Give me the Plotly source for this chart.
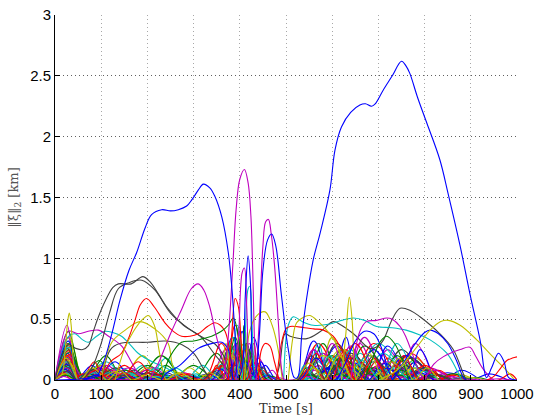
import plotly.graph_objects as go

# MATLAB default colour order
COLORS = ['rgb(0,0,255)', 'rgb(0,128,0)', 'rgb(255,0,0)', 'rgb(0,191,191)',
          'rgb(191,0,191)', 'rgb(191,191,0)', 'rgb(64,64,64)']

x_ticks = [0, 100, 200, 300, 400, 500, 600, 700, 800, 900, 1000]
y_ticks = [0, 0.5, 1, 1.5, 2, 2.5, 3]

# ---- prominent curves: (time [s], ||xi||_2 [km]) knots ----
blue_main = [(0, 0), (60, 0.01), (90, 0.03), (100, 0.1), (110, 0.2), (123, 0.38), (141, 0.66),
             (160, 0.9), (177, 1.05), (195, 1.25), (209, 1.36), (231, 1.40), (250, 1.39),
             (267, 1.40), (285, 1.43), (296, 1.48), (310, 1.56), (321, 1.61), (335, 1.58),
             (346, 1.51), (361, 1.34), (375, 1.05), (383, 0.75), (390, 0.35), (396, 0.02),
             (405, 0.1), (412, 0.7), (418, 1.02), (423, 0.8), (428, 0.1), (433, 0.02),
             (442, 0.35), (450, 0.9), (460, 1.15), (469, 1.2), (478, 1.1), (490, 0.7),
             (505, 0.25), (518, 0.02), (525, 0.02), (534, 0.36), (545, 0.68), (559, 0.99),
             (574, 1.21), (595, 1.56), (606, 1.89), (620, 2.08), (640, 2.2), (660, 2.26),
             (672, 2.27), (685, 2.25), (693, 2.27), (710, 2.38), (730, 2.5), (750, 2.62),
             (760, 2.58), (768, 2.52), (785, 2.32), (805, 2.11), (833, 1.81), (851, 1.53),
             (877, 1.10), (898, 0.71), (920, 0.33), (934, 0.02), (945, 0.1), (960, 0.22),
             (972, 0.15), (982, 0.02), (1000, 0.0)]
magenta_tall = [(365, 0), (375, 0.35), (385, 0.95), (392, 1.4), (400, 1.65), (410, 1.73),
                (418, 1.62), (424, 1.35), (428, 0.9), (432, 0.3), (436, 0)]
magenta_second = [(435, 0), (443, 0.55), (450, 1.1), (456, 1.3), (462, 1.32), (468, 1.2),
                  (475, 0.95), (483, 0.5), (490, 0.1), (495, 0)]
magenta_spike = [(392, 0), (398, 0.4), (405, 0.88), (410, 0.92), (415, 0.6), (420, 0.1), (425, 0)]
magenta_arch = [(205, 0), (215, 0.08), (224, 0.14), (250, 0.38), (274, 0.58), (295, 0.75),
                (310, 0.79), (322, 0.74), (335, 0.6), (348, 0.38), (361, 0.19), (372, 0.05), (380, 0)]
gray_a = [(0, 0), (15, 0.2), (30, 0.29), (45, 0.26), (60, 0.25), (72, 0.28), (83, 0.4),
          (94, 0.52), (110, 0.66), (125, 0.76), (137, 0.79), (165, 0.79), (190, 0.85), (205, 0.81),
          (225, 0.7), (242, 0.6), (278, 0.45), (314, 0.36), (350, 0.19), (370, 0.1), (390, 0.02)]
gray_b = [(60, 0), (80, 0.1), (100, 0.3), (118, 0.55), (137, 0.75), (160, 0.8), (188, 0.82),
          (216, 0.74), (250, 0.55), (290, 0.42), (320, 0.35), (345, 0.3), (365, 0.2), (380, 0.05), (390, 0)]
red_a = [(100, 0), (120, 0.15), (144, 0.22), (160, 0.35), (173, 0.49), (185, 0.62), (198, 0.67),
         (215, 0.6), (238, 0.47), (256, 0.4), (274, 0.36), (292, 0.36), (310, 0.38), (330, 0.44),
         (346, 0.47), (358, 0.45), (368, 0.4), (378, 0.25), (385, 0.05), (390, 0)]
red_spike = [(375, 0), (383, 0.4), (390, 0.67), (397, 0.6), (403, 0.3), (410, 0)]
yellow_a = [(130, 0), (150, 0.25), (170, 0.4), (190, 0.5), (202, 0.53), (215, 0.45), (225, 0.25), (235, 0.05), (240, 0)]
yellow_b = [(100, 0), (123, 0.31), (152, 0.41), (184, 0.48), (216, 0.42), (245, 0.3), (253, 0.14), (265, 0)]
yellow_c = [(410, 0), (422, 0.41), (437, 0.53), (455, 0.56), (470, 0.45), (483, 0.25), (492, 0)]
yellow_spike0 = [(0, 0), (15, 0.05), (22, 0.25), (28, 0.5), (31, 0.55), (35, 0.45), (40, 0.15), (48, 0)]
yellow_spike1 = [(620, 0), (630, 0.4), (637, 0.68), (643, 0.5), (648, 0.1), (652, 0)]
yellow_late = [(700, 0), (740, 0.08), (783, 0.27), (812, 0.41), (835, 0.48), (851, 0.49),
               (877, 0.45), (913, 0.33), (948, 0.19), (977, 0.08), (995, 0)]
yellow_mid = [(505, 0.0), (515, 0.35), (523, 0.47), (540, 0.52), (552, 0.53), (570, 0.48),
              (588, 0.41), (605, 0.32), (620, 0.2), (635, 0.05), (645, 0)]
gray_late = [(478, 0), (487, 0.14), (498, 0.38), (509, 0.36), (545, 0.34), (575, 0.4), (602, 0.48),
             (620, 0.45), (646, 0.38), (682, 0.26), (700, 0.28), (711, 0.33), (730, 0.5),
             (747, 0.59), (770, 0.57), (790, 0.52), (833, 0.38), (862, 0.25), (884, 0.05), (890, 0)]
gray_flat = [(100, 0.0), (120, 0.25), (140, 0.3), (200, 0.31), (240, 0.32), (275, 0.29),
             (300, 0.22), (320, 0.1), (335, 0)]
cyan_late = [(495, 0.0), (505, 0.45), (516, 0.52), (535, 0.48), (559, 0.45), (595, 0.46),
             (620, 0.49), (646, 0.51), (670, 0.49), (696, 0.44), (730, 0.43), (760, 0.41),
             (790, 0.37), (812, 0.33), (848, 0.22), (870, 0.08), (880, 0)]
cyan_early = [(0, 0), (15, 0.25), (30, 0.36), (43, 0.38), (60, 0.33), (72, 0.31), (90, 0.36),
              (108, 0.40), (125, 0.39), (144, 0.36), (165, 0.28), (180, 0.22), (200, 0.17),
              (216, 0.14), (240, 0.1), (260, 0.05), (280, 0)]
cyan_spike = [(405, 0), (412, 0.4), (418, 0.75), (422, 0.77), (426, 0.5), (431, 0)]
magenta_early = [(0, 0), (10, 0.2), (29, 0.4), (50, 0.38), (72, 0.40), (94, 0.41), (116, 0.36),
                 (144, 0.28), (165, 0.15), (180, 0.05), (190, 0)]
magenta_h = [(640, 0.0), (660, 0.4), (674, 0.48), (696, 0.49), (718, 0.51), (730, 0.5),
             (747, 0.44), (760, 0.35), (775, 0.2), (790, 0.05), (800, 0)]
magenta_i = [(800, 0.0), (820, 0.13), (840, 0.19), (877, 0.25), (898, 0.27), (910, 0.2),
             (925, 0.1), (940, 0.03), (950, 0)]
green_d = [(230, 0.0), (250, 0.2), (274, 0.31), (300, 0.32), (320, 0.34), (339, 0.36),
           (360, 0.4), (375, 0.45), (386, 0.51), (395, 0.4), (405, 0.15), (412, 0)]
green_m = [(670, 0), (690, 0.2), (705, 0.32), (718, 0.36), (735, 0.3), (750, 0.18), (765, 0)]
blue_f = [(230, 0), (240, 0.05), (270, 0.12), (310, 0.26), (340, 0.3), (361, 0.31), (375, 0.25), (385, 0)]
blue_k = [(730, 0), (754, 0.14), (780, 0.3), (800, 0.39), (812, 0.41), (830, 0.38), (850, 0.3),
          (869, 0.16), (884, 0.02), (890, 0)]
blue_l = [(610, 0), (630, 0.15), (650, 0.32), (670, 0.4), (690, 0.38), (705, 0.28), (720, 0.1), (730, 0)]
red_g = [(480, 0), (490, 0.3), (500, 0.42), (509, 0.44), (540, 0.43), (560, 0.42), (581, 0.41),
         (602, 0.36), (620, 0.25), (640, 0.05), (650, 0)]
red_q = [(440, 0), (447, 0.25), (455, 0.3), (465, 0.28), (475, 0.15), (485, 0)]
red_j = [(935, 0), (950, 0.03), (965, 0.1), (978, 0.16), (990, 0.18), (1000, 0.19)]

# ---- the dense mass of small arches: [start, peak time, end, peak height] ----
small_arches = [
    [[0, 28, 55, 0.22], [60, 95, 130, 0.1], [340, 385, 410, 0.35], [430, 455, 480, 0.12], [560, 610, 660, 0.28], [800, 850, 900, 0.06]],
    [[0, 30, 60, 0.25], [62, 95, 135, 0.16], [250, 300, 345, 0.12], [350, 395, 430, 0.3], [560, 600, 640, 0.2], [690, 730, 770, 0.15]],
    [[0, 27, 52, 0.3], [60, 100, 135, 0.1], [150, 200, 240, 0.08], [360, 390, 420, 0.45], [540, 580, 620, 0.22], [640, 690, 740, 0.3]],
    [[0, 32, 65, 0.2], [90, 140, 200, 0.1], [200, 240, 280, 0.18], [380, 400, 425, 0.25], [560, 590, 620, 0.15], [630, 660, 700, 0.22]],
    [[0, 26, 50, 0.45], [70, 110, 150, 0.06], [330, 370, 400, 0.25], [540, 570, 600, 0.12], [620, 660, 700, 0.3], [720, 760, 800, 0.2]],
    [[0, 30, 58, 0.35], [60, 90, 120, 0.08], [260, 290, 330, 0.1], [370, 410, 440, 0.3], [550, 600, 650, 0.1], [740, 780, 820, 0.18]],
    [[0, 29, 56, 0.18], [120, 170, 210, 0.05], [340, 380, 410, 0.28], [530, 570, 610, 0.18], [700, 740, 780, 0.12]],
    [[0, 25, 48, 0.15], [50, 80, 110, 0.12], [380, 405, 430, 0.4], [520, 550, 580, 0.18], [600, 630, 660, 0.35], [840, 880, 920, 0.08]],
    [[0, 33, 62, 0.14], [70, 110, 150, 0.2], [150, 200, 250, 0.12], [300, 350, 390, 0.22], [580, 620, 670, 0.25], [750, 800, 850, 0.08]],
    [[0, 29, 55, 0.12], [80, 120, 160, 0.08], [320, 360, 395, 0.3], [400, 420, 440, 0.2], [580, 640, 700, 0.18], [720, 770, 820, 0.22]],
    [[0, 28, 54, 0.32], [60, 100, 140, 0.06], [280, 320, 350, 0.12], [355, 385, 415, 0.35], [620, 680, 740, 0.2], [760, 800, 840, 0.1]],
    [[0, 31, 60, 0.1], [100, 140, 180, 0.08], [390, 420, 445, 0.3], [450, 470, 490, 0.08], [600, 640, 680, 0.28], [680, 720, 760, 0.25]],
    [[0, 27, 50, 0.28], [140, 190, 230, 0.2], [330, 360, 390, 0.15], [560, 600, 640, 0.35], [640, 680, 720, 0.2]],
    [[0, 30, 60, 0.08], [62, 90, 120, 0.05], [360, 400, 430, 0.18], [540, 590, 640, 0.1], [700, 750, 800, 0.25]],
    [[0, 29, 58, 0.19], [90, 130, 170, 0.15], [400, 430, 460, 0.35], [540, 560, 580, 0.25], [620, 660, 700, 0.15], [900, 940, 980, 0.05]],
    [[0, 31, 62, 0.23], [64, 100, 140, 0.12], [180, 230, 280, 0.2], [340, 370, 400, 0.18], [600, 650, 700, 0.12], [760, 790, 820, 0.1]],
    [[0, 26, 52, 0.17], [110, 150, 190, 0.12], [380, 410, 440, 0.25], [560, 610, 660, 0.2], [690, 720, 750, 0.18]],
    [[0, 33, 64, 0.15], [150, 190, 230, 0.12], [370, 395, 420, 0.45], [520, 560, 600, 0.1], [640, 700, 760, 0.3]],
    [[0, 28, 55, 0.35], [80, 130, 180, 0.05], [350, 375, 400, 0.2], [580, 620, 660, 0.2], [760, 810, 860, 0.1]],
    [[0, 30, 58, 0.13], [200, 250, 300, 0.08], [400, 425, 450, 0.22], [600, 640, 680, 0.15], [780, 820, 860, 0.05]],
    [[0, 27, 52, 0.26], [60, 100, 140, 0.08], [370, 395, 420, 0.25], [560, 600, 640, 0.12], [640, 690, 740, 0.15]],
    [[0, 32, 63, 0.11], [100, 150, 200, 0.06], [330, 360, 390, 0.12], [520, 560, 600, 0.32], [680, 720, 760, 0.28]],
    [[0, 29, 56, 0.4], [58, 90, 130, 0.1], [390, 410, 430, 0.45], [540, 580, 620, 0.3], [700, 740, 780, 0.2]],
    [[0, 30, 59, 0.21], [160, 200, 240, 0.06], [350, 380, 410, 0.22], [600, 630, 660, 0.25], [740, 780, 820, 0.15], [960, 985, 1000, 0.05]],
    [[0, 26, 50, 0.09], [60, 110, 160, 0.15], [390, 420, 450, 0.2], [540, 600, 660, 0.08], [660, 710, 760, 0.22]],
    [[0, 31, 61, 0.2], [160, 210, 260, 0.1], [380, 400, 420, 0.4], [620, 670, 720, 0.35], [800, 840, 880, 0.05]],
    [[0, 28, 54, 0.16], [60, 100, 140, 0.12], [340, 380, 420, 0.2], [560, 620, 680, 0.25]],
    [[0, 30, 60, 0.12], [200, 240, 280, 0.06], [390, 415, 440, 0.3], [520, 550, 580, 0.05], [620, 650, 680, 0.2]],
    [[0, 27, 53, 0.07], [130, 180, 230, 0.06], [360, 390, 415, 0.25], [640, 690, 740, 0.25], [740, 780, 820, 0.15]],
    [[0, 32, 64, 0.06], [100, 150, 200, 0.08], [400, 420, 440, 0.25], [560, 620, 680, 0.18], [720, 760, 800, 0.2]],
    [[0, 29, 57, 0.24], [60, 85, 110, 0.15], [330, 350, 370, 0.12], [520, 570, 620, 0.3], [660, 700, 740, 0.12]],
    [[0, 30, 58, 0.27], [120, 160, 200, 0.06], [360, 380, 400, 0.3], [580, 610, 640, 0.2], [700, 740, 780, 0.3]],
    [[0, 27, 52, 0.14], [70, 110, 150, 0.1], [410, 440, 470, 0.18], [540, 580, 620, 0.22], [740, 780, 820, 0.3]],
    [[0, 33, 66, 0.08], [160, 200, 240, 0.1], [380, 400, 420, 0.35], [520, 600, 680, 0.06], [680, 720, 760, 0.1]],
    [[0, 28, 56, 0.05], [80, 120, 160, 0.06], [350, 390, 430, 0.12], [580, 640, 700, 0.22], [760, 800, 840, 0.1]],
    [[0, 29, 58, 0.32], [180, 230, 280, 0.05], [380, 410, 440, 0.15], [580, 600, 620, 0.15], [700, 760, 820, 0.2]],
    [[0, 30, 60, 0.3], [100, 140, 180, 0.04], [360, 390, 420, 0.35], [620, 670, 720, 0.28]],
    [[0, 28, 55, 0.06], [60, 100, 140, 0.05], [340, 370, 400, 0.18], [600, 650, 700, 0.3], [800, 830, 860, 0.08]],
    [[0, 31, 62, 0.05], [180, 220, 260, 0.1], [400, 430, 460, 0.12], [540, 570, 600, 0.3], [740, 770, 800, 0.15]],
    [[0, 29, 57, 0.07], [110, 160, 210, 0.1], [360, 400, 440, 0.15], [520, 560, 600, 0.25], [660, 720, 780, 0.15]],
    [[0, 27, 52, 0.2], [80, 130, 180, 0.05], [350, 370, 390, 0.3], [600, 660, 720, 0.12], [830, 870, 910, 0.05]],
    [[0, 32, 64, 0.15], [130, 170, 210, 0.08], [400, 425, 450, 0.12], [560, 610, 660, 0.3], [720, 770, 820, 0.18]],
    [[0, 30, 60, 0.04], [62, 120, 180, 0.04], [420, 445, 470, 0.15], [560, 590, 620, 0.1], [760, 790, 820, 0.25]],
    [[0, 29, 58, 0.1], [200, 240, 280, 0.12], [380, 405, 430, 0.2], [640, 690, 740, 0.1], [820, 860, 900, 0.05]],
    [[0, 31, 60, 0.08], [140, 180, 220, 0.15], [410, 430, 450, 0.3], [620, 660, 700, 0.15], [760, 800, 840, 0.12]],
    [[0, 28, 56, 0.11], [220, 260, 300, 0.1], [340, 370, 400, 0.1], [600, 640, 680, 0.25], [720, 760, 800, 0.05]],
    [[0, 30, 60, 0.17], [62, 110, 160, 0.12], [370, 390, 410, 0.3], [560, 600, 640, 0.3], [780, 820, 860, 0.08]],
    [[0, 26, 52, 0.05], [100, 150, 200, 0.06], [360, 390, 420, 0.25], [520, 580, 640, 0.2], [700, 730, 760, 0.15]],
    [[0, 31, 62, 0.1], [90, 130, 170, 0.1], [380, 400, 420, 0.2], [600, 620, 640, 0.18], [680, 730, 780, 0.08]],
]

# ---- the near-floor layer of very low arches ----
tiny_arches = [
    [[0, 20, 45, 0.12], [50, 75, 100, 0.05], [120, 150, 180, 0.04], [200, 230, 260, 0.05], [290, 320, 350, 0.04], [360, 380, 400, 0.1], [420, 440, 460, 0.08], [520, 545, 570, 0.1], [580, 610, 640, 0.12], [650, 680, 710, 0.1], [720, 750, 780, 0.08], [790, 820, 850, 0.05], [880, 910, 940, 0.02]],
    [[0, 25, 50, 0.1], [55, 80, 105, 0.07], [110, 140, 170, 0.05], [180, 210, 240, 0.04], [250, 280, 310, 0.06], [330, 350, 370, 0.08], [380, 400, 420, 0.12], [430, 450, 470, 0.06], [530, 560, 590, 0.08], [600, 630, 660, 0.1], [670, 700, 730, 0.12], [740, 770, 800, 0.06], [820, 850, 880, 0.03]],
    [[0, 22, 44, 0.09], [50, 70, 90, 0.06], [100, 125, 150, 0.05], [160, 190, 220, 0.03], [230, 260, 290, 0.04], [300, 330, 360, 0.05], [370, 390, 410, 0.15], [410, 430, 450, 0.1], [520, 540, 560, 0.06], [560, 590, 620, 0.09], [620, 650, 680, 0.14], [690, 720, 750, 0.1], [760, 790, 820, 0.08]],
    [[0, 18, 40, 0.08], [45, 65, 85, 0.04], [90, 115, 140, 0.06], [150, 175, 200, 0.05], [210, 240, 270, 0.03], [280, 305, 330, 0.05], [340, 365, 390, 0.1], [400, 415, 430, 0.14], [440, 460, 480, 0.05], [540, 570, 600, 0.15], [610, 640, 670, 0.08], [680, 710, 740, 0.09], [750, 780, 810, 0.1], [850, 880, 910, 0.02]],
    [[0, 24, 48, 0.07], [52, 78, 104, 0.08], [110, 135, 160, 0.03], [170, 200, 230, 0.06], [240, 270, 300, 0.03], [310, 340, 370, 0.06], [375, 395, 415, 0.18], [420, 440, 460, 0.12], [520, 550, 580, 0.05], [590, 620, 650, 0.16], [660, 690, 720, 0.08], [730, 760, 790, 0.12], [800, 830, 860, 0.04]],
    [[0, 16, 36, 0.06], [40, 60, 80, 0.05], [85, 110, 135, 0.04], [140, 165, 190, 0.07], [200, 225, 250, 0.04], [260, 290, 320, 0.05], [330, 360, 390, 0.12], [395, 410, 425, 0.1], [430, 450, 470, 0.08], [525, 555, 585, 0.12], [595, 625, 655, 0.06], [665, 695, 725, 0.15], [735, 765, 795, 0.05], [830, 860, 890, 0.04]],
    [[0, 21, 42, 0.05], [48, 72, 96, 0.04], [100, 130, 160, 0.07], [165, 195, 225, 0.04], [235, 265, 295, 0.05], [300, 325, 350, 0.04], [360, 385, 410, 0.2], [415, 435, 455, 0.1], [530, 560, 590, 0.1], [600, 635, 670, 0.12], [680, 705, 730, 0.06], [740, 775, 810, 0.1], [870, 900, 930, 0.02]],
    [[0, 23, 46, 0.04], [50, 75, 100, 0.03], [105, 130, 155, 0.03], [160, 185, 210, 0.03], [215, 245, 275, 0.02], [285, 315, 345, 0.03], [350, 370, 390, 0.06], [395, 420, 445, 0.06], [450, 470, 490, 0.03], [520, 550, 580, 0.04], [585, 615, 645, 0.05], [650, 680, 710, 0.05], [715, 745, 775, 0.04], [780, 810, 840, 0.03], [850, 880, 910, 0.015]],
    [[0, 19, 38, 0.03], [42, 66, 90, 0.02], [95, 120, 145, 0.02], [150, 180, 210, 0.02], [220, 250, 280, 0.015], [290, 320, 350, 0.02], [355, 375, 395, 0.04], [400, 425, 450, 0.04], [455, 480, 505, 0.02], [515, 545, 575, 0.03], [580, 610, 640, 0.03], [645, 675, 705, 0.04], [710, 740, 770, 0.03], [775, 805, 835, 0.02], [840, 880, 920, 0.01], [930, 960, 990, 0.01]],
    [[0, 26, 52, 0.13], [60, 90, 120, 0.04], [130, 160, 190, 0.03], [200, 230, 260, 0.02], [270, 300, 330, 0.03], [340, 360, 380, 0.09], [385, 410, 435, 0.16], [440, 460, 480, 0.04], [530, 565, 600, 0.18], [605, 640, 675, 0.1], [680, 715, 750, 0.14], [760, 790, 820, 0.06]],
    [[0, 24, 50, 0.15], [55, 85, 115, 0.06], [125, 155, 185, 0.06], [190, 220, 250, 0.03], [260, 295, 330, 0.04], [335, 360, 385, 0.13], [390, 405, 420, 0.2], [425, 445, 465, 0.09], [520, 540, 560, 0.12], [565, 595, 625, 0.2], [630, 665, 700, 0.16], [705, 735, 765, 0.1], [770, 800, 830, 0.07]],
    [[0, 22, 46, 0.17], [50, 80, 110, 0.09], [115, 145, 175, 0.04], [185, 215, 245, 0.05], [255, 285, 315, 0.02], [320, 345, 370, 0.07], [375, 400, 425, 0.22], [430, 450, 470, 0.1], [525, 555, 585, 0.2], [590, 620, 650, 0.18], [655, 690, 725, 0.2], [730, 760, 790, 0.15], [795, 825, 855, 0.04]],
    [[0, 27, 54, 0.2], [58, 88, 118, 0.08], [125, 150, 175, 0.06], [180, 210, 240, 0.07], [250, 280, 310, 0.05], [325, 350, 375, 0.1], [380, 395, 410, 0.25], [415, 435, 455, 0.15], [535, 565, 595, 0.22], [600, 625, 650, 0.24], [660, 690, 720, 0.18], [725, 755, 785, 0.2], [790, 815, 840, 0.06]],
    [[0, 25, 50, 0.18], [55, 82, 110, 0.1], [115, 140, 165, 0.08], [170, 200, 230, 0.04], [240, 270, 300, 0.06], [310, 335, 360, 0.06], [365, 385, 405, 0.18], [410, 430, 450, 0.2], [520, 550, 580, 0.14], [585, 615, 645, 0.2], [650, 680, 710, 0.22], [715, 745, 775, 0.18], [780, 805, 830, 0.1]],
]

B, G, R, C, M, Y, K = COLORS
big_curves = [
    (gray_flat, K), (cyan_early, C), (magenta_early, M), (yellow_b, Y), (gray_b, K),
    (gray_a, K), (red_a, R), (yellow_a, Y), (green_d, G), (blue_f, B), (magenta_arch, M),
    (red_spike, R), (yellow_spike0, Y), (cyan_spike, C), (yellow_c, Y), (red_q, R),
    (gray_late, K), (cyan_late, C), (red_g, R), (yellow_mid, Y), (yellow_spike1, Y),
    (blue_l, B), (green_m, G), (magenta_h, M), (blue_k, B), (yellow_late, Y),
    (magenta_i, M), (red_j, R), (magenta_spike, M), (magenta_tall, M),
    (magenta_second, M), (blue_main, B),
]

fig = go.Figure()


def add_line(pts, color):
    fig.add_trace(go.Scatter(
        x=[p[0] for p in pts], y=[p[1] for p in pts], mode='lines',
        line=dict(color=color, width=1.1, shape='spline', smoothing=1.0),
        hoverinfo='skip', showlegend=False))


def arches_to_points(arches):
    pts = []
    for t0, tp, t1, h in arches:
        if not pts or t0 > pts[-1][0]:
            pts.append((t0, 0.0))
        pts.append((tp, h))
        pts.append((t1, 0.0))
    return pts


for i, arches in enumerate(small_arches):
    add_line(arches_to_points(arches), COLORS[i % 7])

for i, arches in enumerate(tiny_arches):
    add_line(arches_to_points(arches), COLORS[(i * 3 + 1) % 7])

for pts, color in big_curves:
    add_line(pts, color)

fig.update_layout(
    width=540, height=416,
    margin=dict(l=55, r=23, t=15, b=36, autoexpand=False),
    paper_bgcolor='white', plot_bgcolor='white',
    font=dict(family='Liberation Sans, Arial, sans-serif', size=15, color='black'),
)
fig.update_xaxes(
    range=[0, 1000], tickvals=x_ticks, ticktext=[str(v) for v in x_ticks],
    showline=True, linecolor='black', linewidth=1, mirror=False,
    ticks='inside', ticklen=5, tickcolor='black', automargin=False,
    showgrid=True, gridcolor='#a8a8a8', griddash='1px,3px', gridwidth=1,
    zeroline=False,
    title=dict(text='Time [s]', font=dict(family='DejaVu Serif, Liberation Serif, serif', size=13, color='#333'), standoff=3),
)
fig.update_yaxes(
    range=[0, 3], tickvals=y_ticks, ticktext=['0', '0.5', '1', '1.5', '2', '2.5', '3'],
    showline=True, linecolor='black', linewidth=1, mirror=False,
    ticks='inside', ticklen=5, tickcolor='black', automargin=False,
    showgrid=True, gridcolor='#606060', griddash='1px,3px', gridwidth=1,
    zeroline=False,
    title=dict(text='‖ξ‖<sub>2</sub> [km]', font=dict(family='DejaVu Serif, Liberation Serif, serif', size=13, color='#555'), standoff=8),
)

fig.write_html('out.html')
